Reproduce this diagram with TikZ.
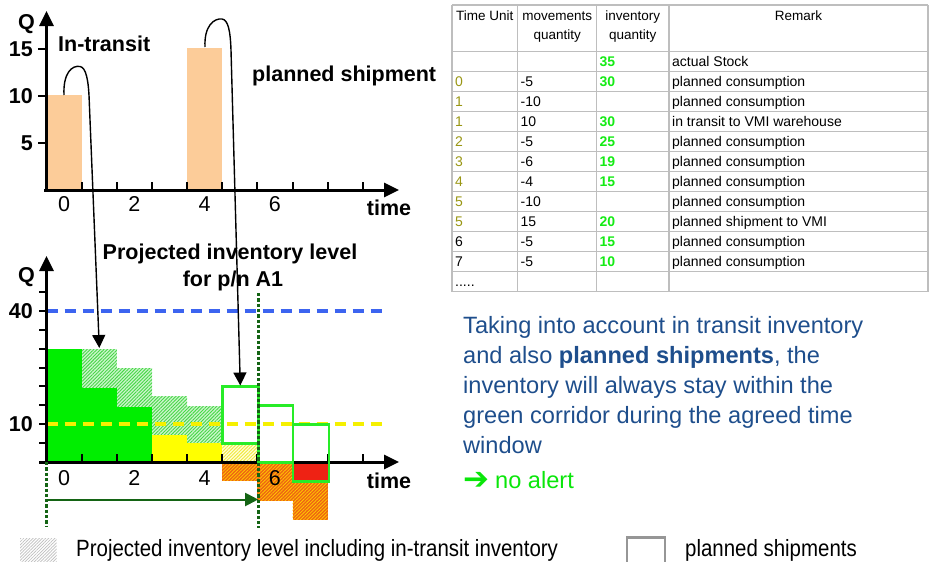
\documentclass[tikz,border=0pt]{standalone}
\usepackage{fontspec}
\setmainfont{Liberation Sans}
\newfontfamily\legendfont[FakeStretch=0.87]{Liberation Sans}
\newfontfamily\symfont{DejaVu Sans}
\usetikzlibrary{arrows.meta,patterns.meta}

\definecolor{peach}{RGB}{252,204,153}
\definecolor{solidgreen}{RGB}{0,238,0}
\definecolor{boxgreen}{RGB}{40,236,40}
\definecolor{hatchgreenbg}{RGB}{205,245,205}
\definecolor{hatchgreenfg}{RGB}{70,215,70}
\definecolor{solidyellow}{RGB}{255,255,0}
\definecolor{hatchyellowbg}{RGB}{255,255,215}
\definecolor{hatchyellowfg}{RGB}{240,230,60}
\definecolor{hatchorangebg}{RGB}{238,100,20}
\definecolor{hatchorangefg}{RGB}{255,200,0}
\definecolor{solidred}{RGB}{238,34,20}
\definecolor{limitblue}{RGB}{60,100,240}
\definecolor{limityellow}{RGB}{245,240,0}
\definecolor{windowgreen}{RGB}{20,100,20}
\definecolor{gridgrey}{RGB}{190,190,190}
\definecolor{olive}{RGB}{153,150,20}
\definecolor{qtygreen}{RGB}{20,235,20}
\definecolor{parablue}{RGB}{30,78,140}
\definecolor{alertgreen}{RGB}{10,230,10}
\definecolor{legendgrey}{RGB}{150,150,150}

\tikzset{
  axisline/.style={line width=3pt,-{Triangle[width=14pt,length=15pt]}},
  tickmark/.style={line width=2pt},
  boldlabel/.style={font=\fontsize{21.5}{24}\selectfont\bfseries,inner sep=0},
  plainlabel/.style={font=\fontsize{21.5}{24}\selectfont,inner sep=0},
  curvearrow/.style={line width=1.4pt,-{Triangle[width=13pt,length=13pt]}},
  hatchgreen/.style={fill=hatchgreenbg,postaction={pattern={Lines[angle=45,distance=2.4pt,line width=0.9pt]},pattern color=hatchgreenfg}},
  hatchyellow/.style={fill=hatchyellowbg,postaction={pattern={Lines[angle=45,distance=2.4pt,line width=0.9pt]},pattern color=hatchyellowfg}},
  hatchorange/.style={fill=hatchorangebg,postaction={pattern={Lines[angle=45,distance=2.4pt,line width=0.8pt]},pattern color=hatchorangefg}},
  hatchgrey/.style={fill=white,postaction={pattern={Lines[angle=45,distance=2.2pt,line width=0.7pt]},pattern color=gridgrey}},
  shipbox/.style={draw=boxgreen,line width=2.7pt},
  limitline/.style={line width=3.6pt,dash pattern=on 11pt off 7pt},
  windowline/.style={draw=windowgreen,line width=2.7pt,dash pattern=on 3.3pt off 2pt},
  gridline/.style={draw=gridgrey,line width=1.3pt},
  cellfont/.style={font=\fontsize{14}{16}\selectfont,inner sep=0,anchor=base west},
  headfont/.style={font=\fontsize{13.5}{15}\selectfont,inner sep=0,anchor=base},
  paraline/.style={font=\fontsize{23.6}{30}\selectfont,text=parablue,inner sep=0,anchor=base west},
  legendtext/.style={font=\legendfont\fontsize{23.5}{26}\selectfont,inner sep=0,anchor=base west},
}

\begin{document}
\begin{tikzpicture}[x=1pt,y=-1pt]
\useasboundingbox (0,0) rectangle (930,562);

% ---------- upper chart: in-transit and planned shipment ----------
\fill[peach] (46.5,190) rectangle (81.65,95);
\fill[peach] (187.1,190) rectangle (222.25,48);
\foreach \i in {1,...,9}
  \draw[tickmark] ({46.5+35.15*\i},182) -- ({46.5+35.15*\i},190);
\foreach \v in {5,10,15}
  \draw[tickmark] (38,{190-9.4*\v}) -- (46.5,{190-9.4*\v});
\draw[axisline] (44,190) -- (399,190);
\draw[axisline] (46.5,191.5) -- (46.5,11);

\node[boldlabel,anchor=base] (qtop) at (26.5,29) {Q};
\node[boldlabel,anchor=east] (ytop15) at (33,49) {15};
\node[boldlabel,anchor=east] (ytop10) at (33,96) {10};
\node[boldlabel,anchor=east] (ytop5) at (33,143) {5};
\foreach \i/\t in {0/0,2/2,4/4,6/6}
  \node[plainlabel,anchor=base] (xtop\t) at ({46.5+35.15*(\i+0.5)},211) {\t};
\node[boldlabel,anchor=base] (timetop) at (389,215) {time};
\node[boldlabel,anchor=base west] (intransit) at (58,51.7) {In-transit};
\node[boldlabel,anchor=base west] (planned) at (252,81) {planned shipment};

% ---------- lower chart: projected inventory level ----------
% hatched parts (including in-transit inventory)
\fill[hatchgreen] (81.65,387.7) rectangle (116.8,349);
\fill[hatchgreen] (116.8,406.7) rectangle (152,368);
\fill[hatchgreen] (152,435) rectangle (187.1,396);
\fill[hatchgreen] (187.1,443) rectangle (222.25,406);
\fill[hatchyellow] (222.25,462) rectangle (257.4,445);
\fill[hatchorange] (222.25,462) rectangle (257.4,480.5);
\fill[hatchorange] (257.4,462) rectangle (292.6,500.5);
\fill[hatchorange] (292.6,480) rectangle (327.7,519.5);
% solid parts
\fill[solidgreen] (46.5,462) rectangle (81.65,349);
\fill[solidgreen] (81.65,462) rectangle (116.8,387.7);
\fill[solidgreen] (116.8,462) rectangle (152,406.7);
\fill[solidyellow] (152,462) rectangle (187.1,435);
\fill[solidyellow] (187.1,462) rectangle (222.25,443);
\fill[solidred] (292.6,462) rectangle (327.7,480);

% limits
\draw[limitline,draw=limitblue] (46.5,310.8) -- (382,310.8);
\draw[limitline,draw=limityellow] (46.5,424.2) -- (382,424.2);

% axes
\foreach \i in {1,...,9}
  \draw[tickmark] ({46.5+35.15*\i},454) -- ({46.5+35.15*\i},462);
\foreach \v in {5,10,...,45}
  \draw[tickmark] (39,{462-3.78*\v}) -- (46.5,{462-3.78*\v});
\draw[axisline] (39,462) -- (399,462);
\draw[axisline] (46.5,464) -- (46.5,256);

% planned shipments
\draw[shipbox] (222.7,386.7) rectangle (258.2,443.2);
\draw[shipbox] (258.2,405.5) rectangle (293,462.3);
\draw[shipbox] (293,424.3) rectangle (329,481.3);

% agreed time window
\draw[windowline] (46.7,462) -- (46.7,526);
\draw[windowline] (258.2,293) -- (258.2,528);
\coordinate (winstart) at (46.5,499.5);
\coordinate (winend) at (258.2,499.5);
\draw[draw=windowgreen,line width=2pt,-{Triangle[width=13pt,length=13pt]}] (winstart) -- (winend);

\node[boldlabel,anchor=base] (qlow) at (26.5,282) {Q};
\node[boldlabel,anchor=east] (ylow40) at (33,310.8) {40};
\node[boldlabel,anchor=east] (ylow10) at (33,424.2) {10};
\foreach \i/\t in {0/0,2/2,4/4,6/6}
  \node[plainlabel,anchor=base] (xlow\t) at ({46.5+35.15*(\i+0.5)},485) {\t};
\node[boldlabel,anchor=base] (timelow) at (389,488.3) {time};
\node[boldlabel,anchor=base] (title1) at (230,259.3) {Projected inventory level};
\node[boldlabel,anchor=base] (title2) at (233,286.7) {for p/n A1};

% arrows from the upper chart into the projection
\coordinate (srcA) at (64,95);
\coordinate (tgtA) at (99.3,348);
\draw[curvearrow] (srcA) .. controls (63,73) and (72,65) .. (80,66.5)
  .. controls (86,67.5) and (88.5,80) .. (89.2,100) -- (tgtA);
\coordinate (srcB) at (205,47);
\coordinate (tgtB) at (240.3,385.5);
\draw[curvearrow] (srcB) .. controls (204,26) and (214,18) .. (222,19)
  .. controls (228,20) and (230.3,30) .. (231,50) -- (tgtB);

% ---------- table ----------
\foreach \yy in {5,51.7,71.7,91.7,111.7,131.7,151.7,171.7,191.7,211.7,231.7,251.7,271.7,291.7}
  \draw[gridline] (452,\yy) -- (928,\yy);
\foreach \xx in {452,517.7,596.7,669,928}
  \draw[gridline] (\xx,5) -- (\xx,291.7);

\node[headfont] (hTime) at (484.8,20.7) {Time Unit};
\node[headfont] (hMov1) at (557.2,20.7) {movements};
\node[headfont] (hMov2) at (557.2,39.5) {quantity};
\node[headfont] (hInv1) at (632.8,20.7) {inventory};
\node[headfont] (hInv2) at (632.8,39.5) {quantity};
\node[headfont] (hRem) at (798.5,20.7) {Remark};

\foreach \k/\t/\tc/\m/\q/\r in {
  0/{}/black/{}/35/actual Stock,
  1/0/olive/-5/30/planned consumption,
  2/1/olive/-10/{}/planned consumption,
  3/1/olive/10/30/in transit to VMI warehouse,
  4/2/olive/-5/25/planned consumption,
  5/3/olive/-6/19/planned consumption,
  6/4/olive/-4/15/planned consumption,
  7/5/olive/-10/{}/planned consumption,
  8/5/olive/15/20/planned shipment to VMI,
  9/6/black/-5/15/planned consumption,
  10/7/black/-5/10/planned consumption,
  11/{.....}/black/{}/{}/{}}
{
  \node[cellfont,text=\tc] (t\k) at (455,{66.7+20*\k}) {\t};
  \node[cellfont] (m\k) at (520.5,{66.7+20*\k}) {\m};
  \node[cellfont,text=qtygreen,font=\fontsize{14}{16}\selectfont\bfseries] (q\k) at (599.5,{66.7+20*\k}) {\q};
  \node[cellfont] (r\k) at (672,{66.7+20*\k}) {\r};
}

% ---------- explanation ----------
\node[paraline] (p1) at (463,333.3) {Taking into account in transit inventory};
\node[paraline] (p2) at (463,363.3) {and also \textbf{planned shipments}, the};
\node[paraline] (p3) at (463,393.3) {inventory will always stay within the};
\node[paraline] (p4) at (463,423.3) {green corridor during the agreed time};
\node[paraline] (p5) at (463,453.3) {window};
\node[paraline,text=alertgreen] (p6) at (463,488) {{\symfont\fontsize{31}{30}\selectfont\raisebox{-1pt}{➔}}\hspace{6pt}no alert};

% ---------- legend ----------
\fill[hatchgrey] (20,538.3) rectangle (56.5,563);
\node[legendtext] (leg1) at (76,556.7) {Projected inventory level including in-transit inventory};
\draw[draw=legendgrey,line width=2.5pt] (627,564) -- (627,537.5) -- (665,537.5) -- (665,564);
\node[legendtext] (leg2) at (685,556.7) {planned shipments};
\end{tikzpicture}
\end{document}
